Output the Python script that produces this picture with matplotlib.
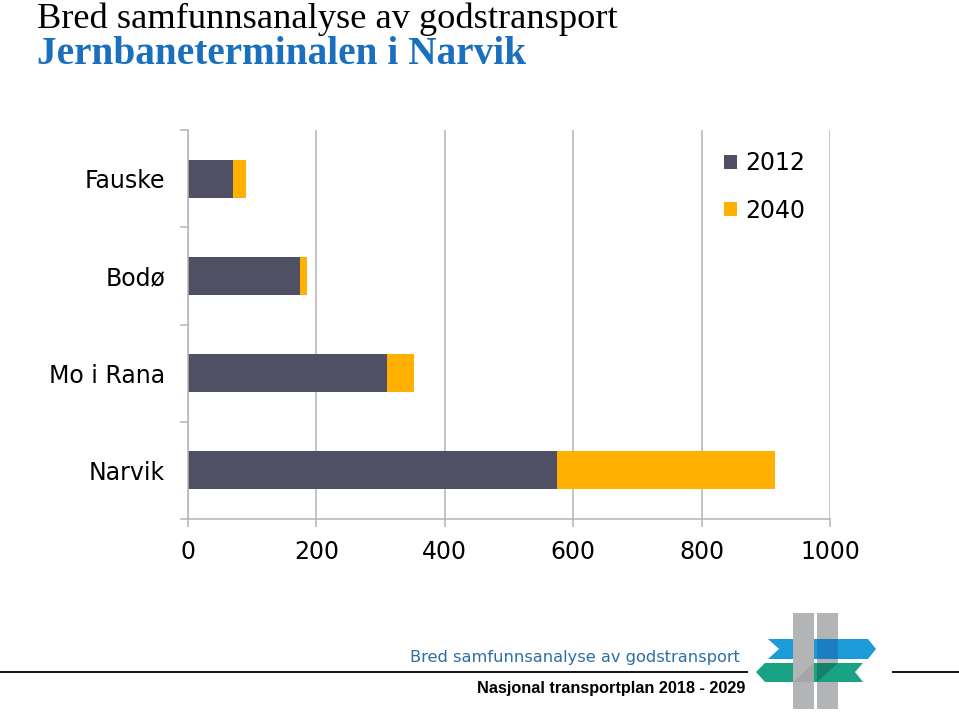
"""Recreate the Narvik rail terminal freight chart."""

import matplotlib

matplotlib.use("Agg")
import matplotlib.pyplot as plt
from matplotlib.patches import Polygon

categories = ["Fauske", "Bodø", "Mo i Rana", "Narvik"]
values_2012 = [70, 174, 310, 575]
values_2040_growth = [20, 11, 42, 340]
series_labels = ["2012", "2040"]
x_ticks = [0, 200, 400, 600, 800, 1000]

title_line1 = "Bred samfunnsanalyse av godstransport"
title_line2 = "Jernbaneterminalen i Narvik"
footer_line1 = "Bred samfunnsanalyse av godstransport"
footer_line2 = "Nasjonal transportplan 2018 - 2029"

DARK = "#4f5063"
ORANGE = "#ffb000"
GRID = "#b4b4b4"
W, H = 959, 713


def px(x, y):
    """Pixel position (from top left) to figure fraction."""
    return x / W, 1 - y / H


def poly(fig, points, color):
    fig.patches.append(
        Polygon([px(x, y) for x, y in points], closed=True, facecolor=color,
                edgecolor="none", transform=fig.transFigure, figure=fig)
    )


def draw_logo(fig):
    grey, grey_dark = "#b3b4b6", "#a4a5a7"
    blue, blue_dark = "#1d9ad8", "#1a7fc0"
    green, green_dark = "#1aa382", "#16806a"
    # right bar sits behind the banners
    poly(fig, [(817, 613), (838, 613), (838, 709), (817, 709)], grey)
    poly(fig, [(768, 639), (868, 639), (876, 649), (868, 659), (768, 659),
               (779, 649)], blue)
    poly(fig, [(765, 663), (863, 663), (855, 672), (863, 682), (765, 682),
               (756, 672)], green)
    poly(fig, [(817, 639), (838, 639), (838, 659), (817, 659)], blue_dark)
    poly(fig, [(817, 663), (838, 663), (817, 682)], green_dark)
    # left bar in front
    poly(fig, [(793, 613), (814, 613), (814, 709), (793, 709)], grey)
    poly(fig, [(793, 682), (814, 663), (814, 682)], grey_dark)


fig = plt.figure(figsize=(W / 100, H / 100), dpi=100)
ax = fig.add_axes([188 / W, 1 - 519 / H, (830 - 188) / W, (519 - 130) / H])

ypos = list(range(len(categories)))
ax.barh(ypos, values_2012, height=0.39, color=DARK, label=series_labels[0])
ax.barh(ypos, values_2040_growth, left=values_2012, height=0.39,
        color=ORANGE, label=series_labels[1])

ax.set_xlim(0, 1000)
ax.set_ylim(len(categories) - 0.5, -0.5)
ax.set_xticks(x_ticks)
ax.set_xticklabels([str(t) for t in x_ticks])
ax.set_yticks([i - 0.5 for i in range(len(categories) + 1)])
ax.set_yticklabels([])
ax.set_yticks(ypos, minor=True)
ax.set_yticklabels(categories, minor=True)

ax.tick_params(axis="x", length=5.8, width=1.1, color=GRID, labelsize=17,
               pad=9)
ax.tick_params(axis="y", which="major", length=5.8, width=1.1, color=GRID)
ax.tick_params(axis="y", which="minor", length=0, labelsize=17, pad=16.5)

ax.set_axisbelow(True)
ax.xaxis.grid(True, color=GRID, linewidth=1.1)
for side in ("top", "right"):
    ax.spines[side].set_visible(False)
for side in ("left", "bottom"):
    ax.spines[side].set_color(GRID)
    ax.spines[side].set_linewidth(1.1)

ax.legend(loc="upper left", bbox_to_anchor=px(724, 151),
          bbox_transform=fig.transFigure, frameon=False, fontsize=17,
          handlelength=0.55, handleheight=0.55, handletextpad=0.35,
          labelspacing=1.0, borderpad=0, borderaxespad=0)

fig.text(*px(37, 28), title_line1, family="Liberation Serif", fontsize=26.2,
         color="black", va="baseline")
fig.text(*px(37, 64), title_line2, family="Liberation Serif", fontsize=28.3,
         fontweight="bold", color="#1b70bd", va="baseline")

fig.add_artist(plt.Line2D([0, 747 / W], [1 - 672 / H] * 2, color="black",
                          linewidth=1.3, transform=fig.transFigure))
fig.add_artist(plt.Line2D([893 / W, 1], [1 - 672 / H] * 2, color="black",
                          linewidth=1.3, transform=fig.transFigure))
fig.text(*px(740, 662), footer_line1, fontsize=11.7, color="#2b6ea8",
         ha="right", va="baseline")
fig.text(*px(745, 693), footer_line2, family="Liberation Sans",
         fontsize=11.7, fontweight="bold", color="black", ha="right",
         va="baseline")

draw_logo(fig)

fig.savefig("out.png", dpi=100)
